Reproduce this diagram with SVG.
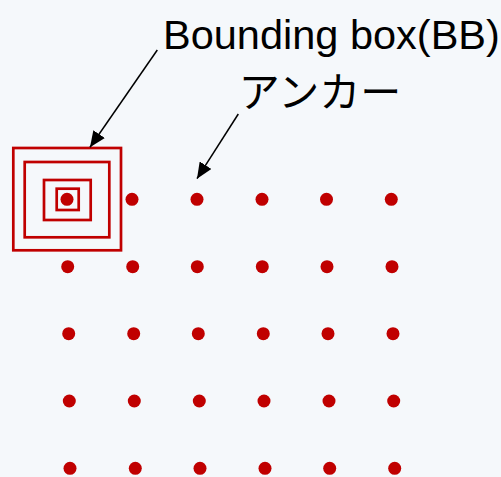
<svg xmlns="http://www.w3.org/2000/svg" width="501" height="477" viewBox="0 0 501 477">
<style>
.bb{fill:none;stroke:#C00000;stroke-width:2.7}
.dot{fill:#C00000}
.lbl{font-family:"Liberation Sans",Arial,sans-serif;fill:#000}
.jp{font-family:"Noto Sans CJK JP",sans-serif;fill:#000}
.conn{stroke:#000;stroke-width:1.5;fill:none;marker-end:url(#ah2)}
</style>
<defs>
<marker id="ah2" viewBox="0 0 16 14" refX="16" refY="7" markerWidth="16" markerHeight="14" markerUnits="userSpaceOnUse" orient="auto">
<path d="M0,0 L16,7 L0,14 z" fill="#000"/>
</marker>
</defs>
<rect x="0" y="0" width="501" height="477" fill="#F5F8FB"/>
<g id="bbox">
<rect class="bb" x="13.3" y="148" width="107.7" height="102.3"/>
<rect class="bb" x="24.7" y="162" width="84.6" height="75.3"/>
<rect class="bb" x="44" y="180" width="46.7" height="40"/>
<rect class="bb" x="56.7" y="188.7" width="22" height="21.3"/>
</g>
<g id="anchors">
<circle class="dot" cx="67" cy="199.3" r="6.5"/>
<circle class="dot" cx="132" cy="199.3" r="6.5"/>
<circle class="dot" cx="197" cy="199.3" r="6.5"/>
<circle class="dot" cx="262" cy="199.3" r="6.5"/>
<circle class="dot" cx="326.5" cy="199.3" r="6.5"/>
<circle class="dot" cx="391.3" cy="199.3" r="6.5"/>
<circle class="dot" cx="67.7" cy="266.7" r="6.5"/>
<circle class="dot" cx="132.7" cy="266.7" r="6.5"/>
<circle class="dot" cx="197.3" cy="266.7" r="6.5"/>
<circle class="dot" cx="262.3" cy="266.7" r="6.5"/>
<circle class="dot" cx="327" cy="266.7" r="6.5"/>
<circle class="dot" cx="392" cy="266.7" r="6.5"/>
<circle class="dot" cx="68.7" cy="333.7" r="6.5"/>
<circle class="dot" cx="133.7" cy="333.7" r="6.5"/>
<circle class="dot" cx="198.3" cy="333.7" r="6.5"/>
<circle class="dot" cx="263.3" cy="333.7" r="6.5"/>
<circle class="dot" cx="328" cy="333.7" r="6.5"/>
<circle class="dot" cx="393" cy="333.7" r="6.5"/>
<circle class="dot" cx="69.3" cy="401" r="6.5"/>
<circle class="dot" cx="134.3" cy="401" r="6.5"/>
<circle class="dot" cx="199.3" cy="401" r="6.5"/>
<circle class="dot" cx="264" cy="401" r="6.5"/>
<circle class="dot" cx="329" cy="401" r="6.5"/>
<circle class="dot" cx="393.7" cy="401" r="6.5"/>
<circle class="dot" cx="70" cy="468.3" r="6.5"/>
<circle class="dot" cx="135.3" cy="468.3" r="6.5"/>
<circle class="dot" cx="200" cy="468.3" r="6.5"/>
<circle class="dot" cx="265" cy="468.3" r="6.5"/>
<circle class="dot" cx="329.7" cy="468.3" r="6.5"/>
<circle class="dot" cx="394.7" cy="468.3" r="6.5"/>
</g>
<g id="label-bb">
<text class="lbl" x="163" y="49" font-size="41.5">Bounding box(BB)</text>
</g>
<g id="label-anchor">
<text class="jp" x="320" y="106.5" font-size="41" text-anchor="middle">アンカー</text>
</g>
<g id="connectors">
<line class="conn" x1="157.3" y1="50" x2="90" y2="147.3"/>
<line class="conn" x1="238.3" y1="114" x2="197" y2="178.7"/>
</g>
</svg>
